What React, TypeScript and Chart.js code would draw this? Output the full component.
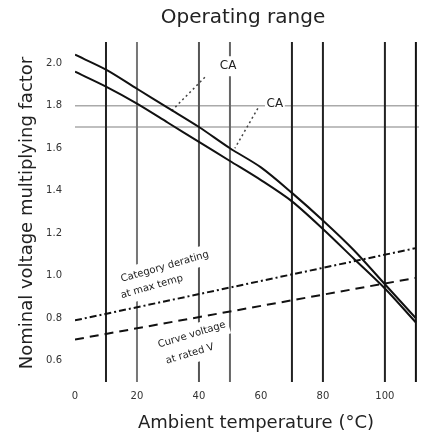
import React, { useEffect, useRef } from 'react';
import { Chart, registerables } from 'chart.js';

Chart.register(...registerables);

// ---- data ----
const TEMPS = [0, 10, 20, 30, 40, 50, 60, 70, 80, 90, 100, 110];
const CURVE_UPPER = [2.04, 1.97, 1.88, 1.79, 1.70, 1.60, 1.51, 1.39, 1.26, 1.12, 0.96, 0.80];
const CURVE_LOWER = [1.96, 1.89, 1.81, 1.72, 1.63, 1.54, 1.45, 1.35, 1.22, 1.08, 0.94, 0.78];

const DASH_TEMPS = [0, 110];
const DASH_UPPER = [0.79, 1.13];
const DASH_LOWER = [0.70, 0.99];

const LEADER1_X = [41.9, 31.3];
const LEADER1_Y = [1.934, 1.778];
const LEADER2_X = [59.0, 51.6];
const LEADER2_Y = [1.788, 1.60];

const VLINE_TEMPS = [10, 20, 40, 50, 70, 80, 100, 110];
const HLINE_VALUES = [1.8, 1.7];

const X_TICKS = [0, 20, 40, 60, 80, 100];
const Y_TICKS = [0.6, 0.8, 1.0, 1.2, 1.4, 1.6, 1.8, 2.0];

const TITLE = 'Operating range';
const X_TITLE = 'Ambient temperature (°C)';
const Y_TITLE = 'Nominal voltage multiplying factor';

// annotation texts (data coords)
const NOTES = [
  { text: 'CA', x: 49.4, y: 1.986, angle: 0 },
  { text: 'CA', x: 64.5, y: 1.807, angle: 0 },
  { text: 'Category derating', x: 29.0, y: 1.042, angle: -16 },
  { text: 'at max temp', x: 24.8, y: 0.948, angle: -16 },
  { text: 'Curve voltage', x: 37.7, y: 0.722, angle: -17 },
  { text: 'at rated V', x: 37.1, y: 0.632, angle: -17 },
];

const FONT = '"DejaVu Sans", sans-serif';
const VLINE_COLORS = ['#222', '#777', '#555', '#666', '#222', '#222', '#222', '#111'];

const pts = (xs: number[], ys: number[]) => xs.map((x, i) => ({ x, y: ys[i] }));

export default function App() {
  const ref = useRef<HTMLCanvasElement | null>(null);

  useEffect(() => {
    if (!ref.current) return;

    const mainSets: any[] = [
      { data: pts(TEMPS, CURVE_UPPER), borderColor: '#111', borderWidth: 2, tension: 0.3 },
      { data: pts(TEMPS, CURVE_LOWER), borderColor: '#111', borderWidth: 2, tension: 0.3 },
      { data: pts(DASH_TEMPS, DASH_UPPER), borderColor: '#111', borderWidth: 2, borderDash: [7, 3, 2, 3] },
      { data: pts(DASH_TEMPS, DASH_LOWER), borderColor: '#111', borderWidth: 2, borderDash: [9, 6] },
      { data: pts(LEADER1_X, LEADER1_Y), borderColor: '#444', borderWidth: 1.5, borderDash: [2, 3] },
      { data: pts(LEADER2_X, LEADER2_Y), borderColor: '#444', borderWidth: 1.5, borderDash: [2, 3] },
    ];
    const firstGridIndex = mainSets.length;
    const gridSets: any[] = [
      ...VLINE_TEMPS.map((t, i) => ({
        data: [{ x: t, y: 0.5 }, { x: t, y: 2.1 }],
        borderColor: VLINE_COLORS[i],
        borderWidth: 2,
      })),
      ...HLINE_VALUES.map((v) => ({
        data: [{ x: 0, y: v }, { x: 111, y: v }],
        borderColor: '#aaa',
        borderWidth: 1.5,
      })),
    ];
    const datasets = [...mainSets, ...gridSets].map((d) => ({
      showLine: true,
      pointRadius: 0,
      fill: false,
      ...d,
    }));

    const notesPlugin = {
      id: 'notes',
      afterDatasetDraw(chart: any, args: any) {
        if (args.index !== firstGridIndex) return;
        const ctx = chart.ctx;
        const xs = chart.scales.x;
        const ys = chart.scales.y;
        ctx.save();
        for (const n of NOTES) {
          const px = xs.getPixelForValue(n.x);
          const py = ys.getPixelForValue(n.y);
          ctx.save();
          ctx.translate(px, py);
          ctx.rotate((n.angle * Math.PI) / 180);
          ctx.font = `10px ${FONT}`;
          const w = ctx.measureText(n.text).width;
          ctx.fillStyle = '#fff';
          ctx.fillRect(-w / 2 - 3, -10, w + 6, 20);
          ctx.restore();
        }
        ctx.restore();
      },
      afterDatasetsDraw(chart: any) {
        const ctx = chart.ctx;
        const xs = chart.scales.x;
        const ys = chart.scales.y;
        for (const n of NOTES) {
          const px = xs.getPixelForValue(n.x);
          const py = ys.getPixelForValue(n.y);
          ctx.save();
          ctx.translate(px, py);
          ctx.rotate((n.angle * Math.PI) / 180);
          ctx.font = `${n.angle === 0 ? 12 : 10}px ${FONT}`;
          ctx.fillStyle = '#222';
          ctx.textAlign = 'center';
          ctx.textBaseline = 'middle';
          ctx.fillText(n.text, 0, 0);
          ctx.restore();
        }
      },
      afterDraw(chart: any) {
        const ctx = chart.ctx;
        ctx.save();
        ctx.fillStyle = '#222';
        ctx.textAlign = 'center';
        ctx.textBaseline = 'middle';
        ctx.font = `20px ${FONT}`;
        ctx.fillText(TITLE, 243, 18);
        ctx.font = `18px ${FONT}`;
        ctx.fillText(X_TITLE, 256, 423);
        ctx.translate(27, 213);
        ctx.rotate(-Math.PI / 2);
        ctx.fillText(Y_TITLE, 0, 0);
        ctx.restore();
      },
    };

    const chart = new Chart(ref.current, {
      type: 'scatter',
      data: { datasets },
      options: {
        responsive: false,
        animation: false,
        events: [],
        layout: { padding: { left: 0, right: 6, top: 42, bottom: 0 } },
        plugins: { legend: { display: false }, tooltip: { enabled: false }, title: { display: false } },
        scales: {
          x: {
            type: 'linear',
            min: 0,
            max: 111,
            grid: { display: false, drawTicks: false },
            border: { display: false },
            afterBuildTicks: (s: any) => {
              s.ticks = X_TICKS.map((v) => ({ value: v }));
            },
            afterFit: (s: any) => {
              s.height = 57;
            },
            ticks: {
              font: { size: 10, family: FONT },
              color: '#333',
              padding: 8,
              maxRotation: 0,
              autoSkip: false,
            },
          },
          y: {
            type: 'linear',
            min: 0.5,
            max: 2.1,
            grid: { display: false, drawTicks: false },
            border: { display: false },
            afterBuildTicks: (s: any) => {
              s.ticks = Y_TICKS.map((v) => ({ value: v }));
            },
            afterFit: (s: any) => {
              s.width = 75;
            },
            ticks: {
              font: { size: 10, family: FONT },
              color: '#333',
              padding: 13,
              autoSkip: false,
              callback: (v: any) => Number(v).toFixed(1),
            },
          },
        },
      },
      plugins: [notesPlugin],
    });
    return () => chart.destroy();
  }, []);

  return (
    <div style={{ position: 'absolute', left: 0, top: 0, width: 425, height: 439, background: '#fff' }}>
      <canvas ref={ref} width={425} height={439} style={{ display: 'block' }} />
    </div>
  );
}
